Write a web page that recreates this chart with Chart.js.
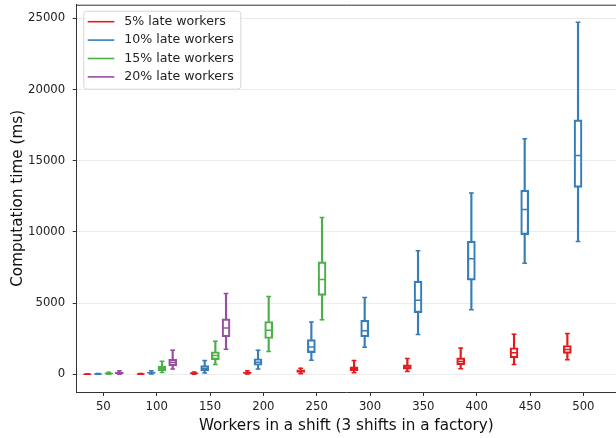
<!DOCTYPE html>
<html>
<head>
<meta charset="utf-8">
<script src="https://cdn.jsdelivr.net/npm/chart.js@4.4.1/dist/chart.umd.min.js"></script>
<style>
  html, body { margin: 0; padding: 0; background: #fff; }
  #wrap { width: 616px; height: 438px; }
</style>
</head>
<body>
<div id="wrap"><canvas id="boxChart" width="616" height="438"></canvas></div>
<script>
// workers in a shift (one group of boxes per value)
const workers = [50, 100, 150, 200, 250, 300, 350, 400, 450, 500];
const xTicks = [50, 100, 150, 200, 250, 300, 350, 400, 450, 500];
const yTicks = [0, 5000, 10000, 15000, 20000, 25000];

const seriesLabels = ["5% late workers", "10% late workers", "15% late workers", "20% late workers"];

// each row: [whisker low, q1, median, q3, whisker high] in ms
const late5 = [
  [3, 8, 12, 18, 30],
  [5, 15, 25, 40, 70],
  [20, 50, 80, 110, 170],
  [30, 70, 110, 160, 260],
  [50, 140, 230, 330, 440],
  [119, 259, 400, 540, 981],
  [210, 371, 512, 680, 1121],
  [400, 680, 911, 1156, 1857],
  [701, 1170, 1521, 1871, 2825],
  [1028, 1472, 1752, 2033, 2874]
];
const late10 = [
  [5, 15, 25, 40, 70],
  [30, 80, 120, 170, 260],
  [105, 245, 421, 617, 970],
  [375, 641, 862, 1100, 1703],
  [1002, 1531, 1927, 2443, 3680],
  [1913, 2642, 3063, 3806, 5397],
  [2804, 4335, 5208, 6554, 8691],
  [4546, 6623, 8130, 9357, 12746],
  [7801, 9813, 11585, 12943, 16541],
  [9333, 13128, 15371, 17873, 24721]
];
const late15 = [
  [10, 30, 60, 100, 160],
  [140, 270, 432, 582, 921],
  [701, 1040, 1332, 1591, 2334],
  [1612, 2523, 3105, 3715, 5467],
  [3831, 5547, 6659, 7899, 11025]
];
const late20 = [
  [20, 60, 110, 170, 260],
  [375, 596, 841, 1051, 1703],
  [1762, 2642, 3259, 3904, 5677]
];

const seriesStats = [late5, late10, late15, late20];
const seriesColors = ["#e41a1c", "#377eb8", "#4daf4a", "#984ea3"];
const seriesShift = [-15, -5, 5, 15]; // box offset inside a group, in x units

const FONT = "'DejaVu Sans', 'Liberation Sans', sans-serif";
Chart.defaults.font.family = FONT;

// one box plot series = whiskers + caps + box + median
function boxDatasets(stats, label, color, shift) {
  const xs = stats.map((_, i) => workers[i] + shift);
  const whisker = {
    type: "bar", grouped: false, barThickness: 1.5,
    backgroundColor: color, borderWidth: 0
  };
  const tick = {
    type: "scatter", showLine: false, pointStyle: "line",
    borderColor: color, pointBorderColor: color, pointBorderWidth: 1.5
  };
  return [
    Object.assign({ label: label + " low", data: stats.map((s, i) => ({ x: xs[i], y: [s[0], s[1]] })) }, whisker),
    Object.assign({ label: label + " high", data: stats.map((s, i) => ({ x: xs[i], y: [s[3], s[4]] })) }, whisker),
    Object.assign({
      label: label + " caps", pointRadius: 2.4,
      data: stats.flatMap((s, i) => [{ x: xs[i], y: s[0] }, { x: xs[i], y: s[4] }])
    }, tick),
    {
      type: "bar", label, grouped: false, barThickness: 8,
      data: stats.map((s, i) => ({ x: xs[i], y: [s[1], s[3]] })),
      backgroundColor: "rgba(255,255,255,0)", borderColor: color,
      borderWidth: 1.5, borderSkipped: false
    },
    Object.assign({
      label: label + " median", pointRadius: 3.6,
      data: stats.map((s, i) => ({ x: xs[i], y: s[2] }))
    }, tick)
  ];
}

const datasets = seriesStats.flatMap((st, k) =>
  boxDatasets(st, seriesLabels[k], seriesColors[k], seriesShift[k]));

// top spine
const frameTop = {
  id: "frameTop",
  afterDraw(chart) {
    const { ctx, chartArea: a } = chart;
    ctx.save();
    ctx.strokeStyle = "#333";
    ctx.lineWidth = 1;
    ctx.beginPath();
    ctx.moveTo(a.left, a.top + 0.5);
    ctx.lineTo(a.right, a.top + 0.5);
    ctx.stroke();
    ctx.restore();
  }
};

// legend box in the upper left corner
const boxLegend = {
  id: "boxLegend",
  afterDraw(chart) {
    const { ctx, chartArea: a } = chart;
    const x0 = a.left + 6.6, y0 = a.top + 6, w = 157, h = 78;
    ctx.save();
    ctx.beginPath();
    ctx.roundRect(x0 + 0.5, y0 + 0.5, w, h, 3);
    ctx.fillStyle = "rgba(255,255,255,0.8)";
    ctx.fill();
    ctx.strokeStyle = "#d6d6d6";
    ctx.lineWidth = 1;
    ctx.stroke();
    ctx.font = "12.6px " + FONT;
    ctx.textBaseline = "middle";
    seriesLabels.forEach((lab, i) => {
      const y = y0 + 11 + i * 18.4;
      ctx.strokeStyle = seriesColors[i];
      ctx.lineWidth = 1.6;
      ctx.beginPath();
      ctx.moveTo(x0 + 4.4, y);
      ctx.lineTo(x0 + 31, y);
      ctx.stroke();
      ctx.fillStyle = "#222";
      ctx.fillText(lab, x0 + 41, y);
    });
    ctx.restore();
  }
};

new Chart(document.getElementById("boxChart").getContext("2d"), {
  type: "bar",
  data: { datasets },
  options: {
    responsive: false,
    animation: false,
    devicePixelRatio: 1,
    events: [],
    layout: { autoPadding: false, padding: { top: 4.7, left: 0, right: 0, bottom: 0 } },
    plugins: { legend: { display: false }, tooltip: { enabled: false } },
    scales: {
      x: {
        type: "linear", min: 25, max: 530.6, offset: false,
        afterBuildTicks: s => { s.ticks = xTicks.map(v => ({ value: v })); },
        afterFit: s => { s.height = 46; s.paddingLeft = 0; s.paddingRight = 0; },
        grid: { drawOnChartArea: false, drawTicks: true, tickLength: 4, tickColor: "#333", offset: false },
        border: { color: "#333", width: 1 },
        ticks: {
          color: "#222", font: { size: 11.7 }, padding: 3.5,
          maxRotation: 0, autoSkip: false, callback: v => String(v)
        },
        title: {
          display: true, text: "Workers in a shift (3 shifts in a factory)",
          color: "#111", font: { size: 15.2 }, padding: { top: 0, bottom: 3 }
        }
      },
      y: {
        type: "linear", min: -1235, max: 25960,
        afterBuildTicks: s => { s.ticks = yTicks.map(v => ({ value: v })); },
        afterFit: s => { s.width = 76.7; s.paddingTop = 0; s.paddingBottom = 0; },
        grid: { color: "#ebebeb", lineWidth: 1, tickLength: 4, tickColor: "#333" },
        border: { color: "#333", width: 1 },
        ticks: { color: "#222", font: { size: 11.7 }, padding: 7.5, callback: v => String(v) },
        title: {
          display: true, text: "Computation time (ms)",
          color: "#111", font: { size: 15.2 }, padding: { top: 8.5, bottom: 0 }
        }
      }
    }
  },
  plugins: [frameTop, boxLegend]
});
</script>
</body>
</html>
